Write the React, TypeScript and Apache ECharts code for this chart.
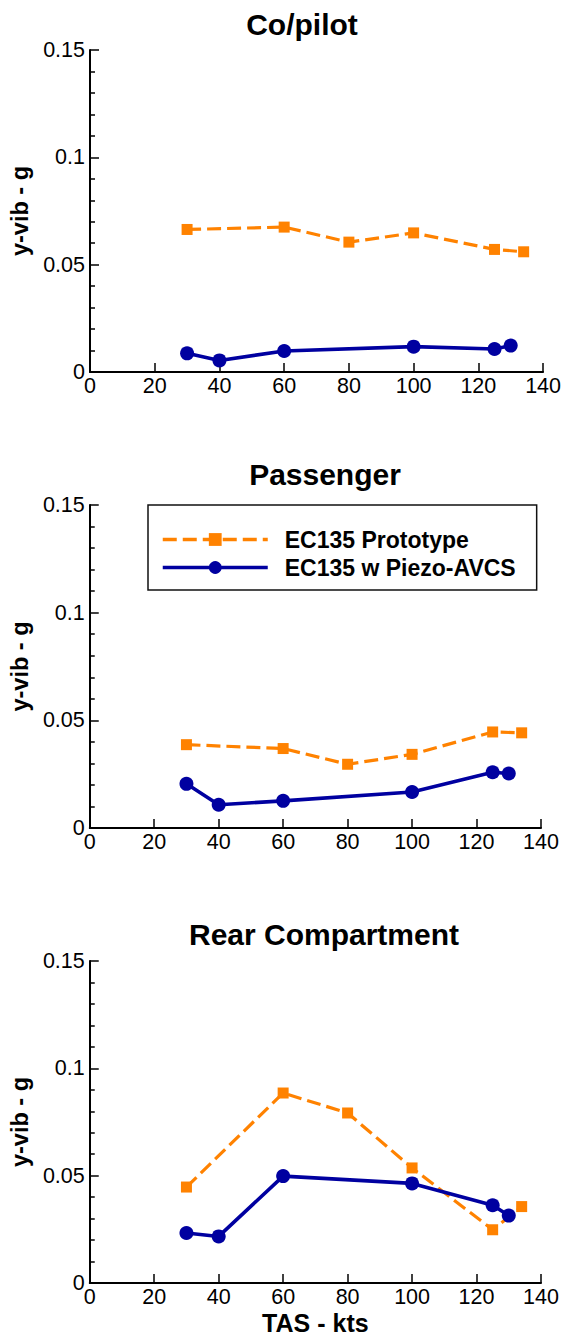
import React, { useEffect, useRef } from "react";
import * as echarts from "echarts";

const xTicks = [0, 20, 40, 60, 80, 100, 120, 140];
const yTicks = [0, 0.05, 0.1, 0.15];
const panelTitles = ["Co/pilot", "Passenger", "Rear Compartment"];
const seriesNames = ["EC135 Prototype", "EC135 w Piezo-AVCS"];

const speedsProto = [30, 60, 80, 100, 125, 134];
const speedsPiezo = [30, 40, 60, 100, 125, 130];

const copilotProto = [0.0664, 0.0675, 0.0605, 0.0648, 0.0571, 0.056];
const copilotPiezo = [0.0087, 0.0054, 0.0098, 0.0118, 0.0107, 0.0123];
const passengerProto = [0.0387, 0.0369, 0.0296, 0.0342, 0.0446, 0.0442];
const passengerPiezo = [0.0205, 0.0108, 0.0126, 0.0167, 0.0259, 0.0253];
const rearProto = [0.0447, 0.0885, 0.0792, 0.0536, 0.0248, 0.0356];
const rearPiezo = [0.0233, 0.0217, 0.0498, 0.0464, 0.0362, 0.0314];

const ORANGE = "#ff8200";
const BLUE = "#0000a0";
const FONT = "Liberation Sans, Arial, Helvetica, sans-serif";

const grids = [
  { left: 90, top: 50, width: 456, height: 322 },
  { left: 85, top: 505, width: 456, height: 323 },
  { left: 85, top: 961, width: 456, height: 322 },
];
const titlePos = [
  { x: 302, y: 9 },
  { x: 325, y: 459 },
  { x: 324, y: 919 },
];

export default function App() {
  const ref = useRef<HTMLDivElement>(null);
  useEffect(() => {
    if (!ref.current) return;
    const chart = echarts.init(ref.current, undefined, { renderer: "svg" });
    const protoData = [copilotProto, passengerProto, rearProto];
    const piezoData = [copilotPiezo, passengerPiezo, rearPiezo];
    const axisLine = { show: true, lineStyle: { color: "#000", width: 2 } };
    const option: any = {
      animation: false,
      backgroundColor: "#fff",
      title: panelTitles.map((t, i) => ({
        text: t,
        left: titlePos[i].x,
        top: titlePos[i].y,
        textAlign: "center",
        padding: 0,
        textStyle: { fontFamily: FONT, fontWeight: "bold", fontSize: 30, color: "#000" },
      })),
      grid: grids.map((g) => ({ ...g, containLabel: false })),
      legend: {
        left: 148,
        top: 505,
        orient: "vertical",
        backgroundColor: "#fff",
        borderColor: "#111",
        borderWidth: 1.5,
        borderRadius: 0,
        padding: [23, 21, 11, 13],
        itemWidth: 105,
        itemHeight: 16,
        itemGap: 5,
        lineStyle: { width: 3.5 },
        data: seriesNames,
        textStyle: { fontFamily: FONT, fontWeight: "bold", fontSize: 23, color: "#000", padding: [0, 0, 0, 12] },
      },
      xAxis: grids.map((_, i) => ({
        type: "value",
        gridIndex: i,
        min: xTicks[0],
        max: xTicks[xTicks.length - 1],
        interval: 20,
        axisLine,
        axisTick: { show: true, inside: true, length: 9, lineStyle: { color: "#000", width: 1.5 } },
        splitLine: { show: false },
        axisLabel: { fontFamily: FONT, fontSize: 21.5, color: "#000", margin: 3 },
        name: i === 2 ? "TAS - kts" : "",
        nameLocation: "middle",
        nameGap: 27,
        nameTextStyle: { fontFamily: FONT, fontWeight: "bold", fontSize: 25, color: "#000", verticalAlign: "top" },
      })),
      yAxis: grids.map((_, i) => ({
        type: "value",
        gridIndex: i,
        min: yTicks[0],
        max: yTicks[yTicks.length - 1],
        interval: 0.05,
        axisLine,
        axisTick: { show: true, inside: true, length: 9, lineStyle: { color: "#000", width: 1.5 } },
        minorTick: { show: true, splitNumber: 5, length: 5, lineStyle: { color: "#000", width: 1.5 } },
        splitLine: { show: false },
        minorSplitLine: { show: false },
        axisLabel: {
          fontFamily: FONT,
          fontSize: 21.5,
          color: "#000",
          margin: 5,
          formatter: (v: number) => String(+v.toFixed(2)),
        },
        name: "y-vib - g",
        nameLocation: "middle",
        nameGap: 50,
        nameTextStyle: { fontFamily: FONT, fontWeight: "bold", fontSize: 23.5, color: "#000" },
      })),
      series: [0, 1, 2].flatMap((i) => [
        {
          name: seriesNames[0],
          type: "line",
          xAxisIndex: i,
          yAxisIndex: i,
          data: speedsProto.map((x, k) => [x, protoData[i][k]]),
          symbol: "rect",
          symbolSize: 11,
          lineStyle: { color: ORANGE, width: 3.2, type: [14, 6] },
          itemStyle: { color: ORANGE },
        },
        {
          name: seriesNames[1],
          type: "line",
          xAxisIndex: i,
          yAxisIndex: i,
          data: speedsPiezo.map((x, k) => [x, piezoData[i][k]]),
          symbol: "circle",
          symbolSize: 14,
          lineStyle: { color: BLUE, width: 3.6 },
          itemStyle: { color: BLUE },
        },
      ]),
    };
    chart.setOption(option);
    return () => chart.dispose();
  }, []);
  return (
    <div
      ref={ref}
      style={{ position: "absolute", left: 0, top: 0, width: 564, height: 1337, background: "#fff" }}
    />
  );
}
